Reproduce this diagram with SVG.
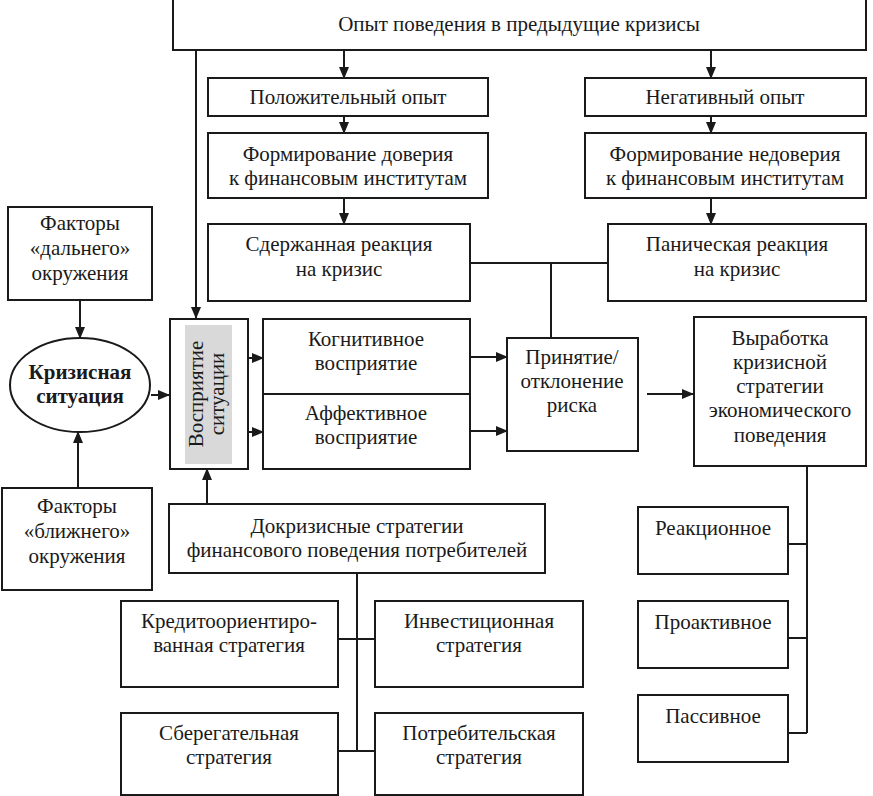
<svg xmlns="http://www.w3.org/2000/svg" width="873" height="796" viewBox="0 0 873 796">
<defs>
<marker id="ah" markerWidth="12" markerHeight="10" refX="11" refY="5" orient="auto" markerUnits="userSpaceOnUse">
<path d="M0,0 L12,5 L0,10 Z" fill="#1a1a1a"/>
</marker>
<style>
.b{fill:#fff;stroke:#1a1a1a;stroke-width:2}
.t{font-family:'Liberation Serif','DejaVu Serif',serif;font-size:21px;fill:#1a1a1a;text-anchor:middle}
.bold{font-weight:bold}
.c{fill:none;stroke:#1a1a1a;stroke-width:2}
.a{fill:none;stroke:#1a1a1a;stroke-width:2;marker-end:url(#ah)}
</style>
</defs>
<rect width="873" height="796" fill="#fff"/>

<g id="connectors">
<path class="a" d="M196,50 V318"/>
<path class="a" d="M344,50 V78"/>
<path class="a" d="M711,50 V78"/>
<path class="a" d="M344,116 V133"/>
<path class="a" d="M711,116 V133"/>
<path class="a" d="M344,198 V224"/>
<path class="a" d="M711,198 V224"/>
<path class="c" d="M470,263 H608 M551,263 V338"/>
<path class="a" d="M470,357 H507"/>
<path class="a" d="M470,431 H507"/>
<path class="a" d="M647,394 H693"/>
<path class="a" d="M80,300 V338"/>
<path class="a" d="M78,488 V432"/>
<path class="a" d="M151,395 H169"/>
<path class="a" d="M248,358 H263"/>
<path class="a" d="M248,432 H263"/>
<path class="a" d="M207,504 V469"/>
<path class="c" d="M357,573 V751 M338,639 H375 M338,751 H375"/>
<path class="c" d="M807,466 V733 M788,544 H807 M788,638 H807 M788,733 H807"/>
</g>

<g id="n-opyt"><rect class="b" x="173" y="-1" width="693" height="51"/><text class="t" x="519" y="31">Опыт поведения в предыдущие кризисы</text></g>
<g id="n-pos"><rect class="b" x="208" y="78" width="280" height="38"/><text class="t" x="348" y="104">Положительный опыт</text></g>
<g id="n-neg"><rect class="b" x="585" y="78" width="281" height="38"/><text class="t" x="725" y="104">Негативный опыт</text></g>
<g id="n-dov"><rect class="b" x="208" y="133" width="280" height="65"/><text class="t" x="348" y="161">Формирование доверия</text><text class="t" x="348" y="185">к финансовым институтам</text></g>
<g id="n-nedov"><rect class="b" x="585" y="133" width="281" height="65"/><text class="t" x="725" y="161">Формирование недоверия</text><text class="t" x="725" y="185">к финансовым институтам</text></g>
<g id="n-sderzh"><rect class="b" x="208" y="224" width="262" height="77"/><text class="t" x="339" y="251">Сдержанная реакция</text><text class="t" x="339" y="276">на кризис</text></g>
<g id="n-panik"><rect class="b" x="608" y="224" width="258" height="77"/><text class="t" x="737" y="251">Паническая реакция</text><text class="t" x="737" y="276">на кризис</text></g>
<g id="n-dal"><rect class="b" x="8" y="207" width="144" height="93"/><text class="t" x="80" y="230">Факторы</text><text class="t" x="80" y="255">«дальнего»</text><text class="t" x="80" y="280">окружения</text></g>
<g id="n-krizis"><ellipse class="b" cx="80" cy="385" rx="70" ry="47"/><text class="t bold" x="80" y="379">Кризисная</text><text class="t bold" x="80" y="403">ситуация</text></g>
<g id="n-blizh"><rect class="b" x="2" y="488" width="150" height="102"/><text class="t" x="77" y="513">Факторы</text><text class="t" x="77" y="538">«ближнего»</text><text class="t" x="77" y="563">окружения</text></g>
<g id="n-vospr"><rect class="b" x="170" y="319" width="78" height="150"/><rect x="185" y="325" width="47" height="139" fill="#d9d9d9"/><text class="t" transform="translate(208,394) rotate(-90)" x="0" y="-5">Восприятие</text><text class="t" transform="translate(208,394) rotate(-90)" x="0" y="16">ситуации</text></g>
<g id="n-kogn"><rect class="b" x="263" y="319" width="207" height="75"/><text class="t" x="366" y="346">Когнитивное</text><text class="t" x="366" y="370">восприятие</text></g>
<g id="n-affekt"><rect class="b" x="263" y="394" width="207" height="75"/><text class="t" x="366" y="420">Аффективное</text><text class="t" x="366" y="444">восприятие</text></g>
<g id="n-prin"><rect class="b" x="507" y="338" width="131" height="113"/><text class="t" x="572" y="364">Принятие/</text><text class="t" x="572" y="388">отклонение</text><text class="t" x="572" y="412">риска</text></g>
<g id="n-vyrab"><rect class="b" x="694" y="317" width="172" height="149"/><text class="t" x="780" y="345">Выработка</text><text class="t" x="780" y="369">кризисной</text><text class="t" x="780" y="393">стратегии</text><text class="t" x="780" y="417">экономического</text><text class="t" x="780" y="442">поведения</text></g>
<g id="n-dokr"><rect class="b" x="169" y="504" width="376" height="69"/><text class="t" x="357" y="533">Докризисные стратегии</text><text class="t" x="357" y="557">финансового поведения потребителей</text></g>
<g id="n-kred"><rect class="b" x="121" y="601" width="217" height="86"/><text class="t" x="229" y="628">Кредитоориентиро-</text><text class="t" x="229" y="652">ванная стратегия</text></g>
<g id="n-invest"><rect class="b" x="375" y="601" width="208" height="86"/><text class="t" x="479" y="628">Инвестиционная</text><text class="t" x="479" y="652">стратегия</text></g>
<g id="n-sber"><rect class="b" x="121" y="713" width="217" height="82"/><text class="t" x="229" y="740">Сберегательная</text><text class="t" x="229" y="764">стратегия</text></g>
<g id="n-potreb"><rect class="b" x="375" y="713" width="208" height="82"/><text class="t" x="479" y="740">Потребительская</text><text class="t" x="479" y="764">стратегия</text></g>
<g id="n-reakc"><rect class="b" x="638" y="507" width="150" height="67"/><text class="t" x="713" y="535">Реакционное</text></g>
<g id="n-proakt"><rect class="b" x="638" y="601" width="150" height="67"/><text class="t" x="713" y="629">Проактивное</text></g>
<g id="n-pass"><rect class="b" x="638" y="695" width="150" height="67"/><text class="t" x="713" y="723">Пассивное</text></g>
</svg>
